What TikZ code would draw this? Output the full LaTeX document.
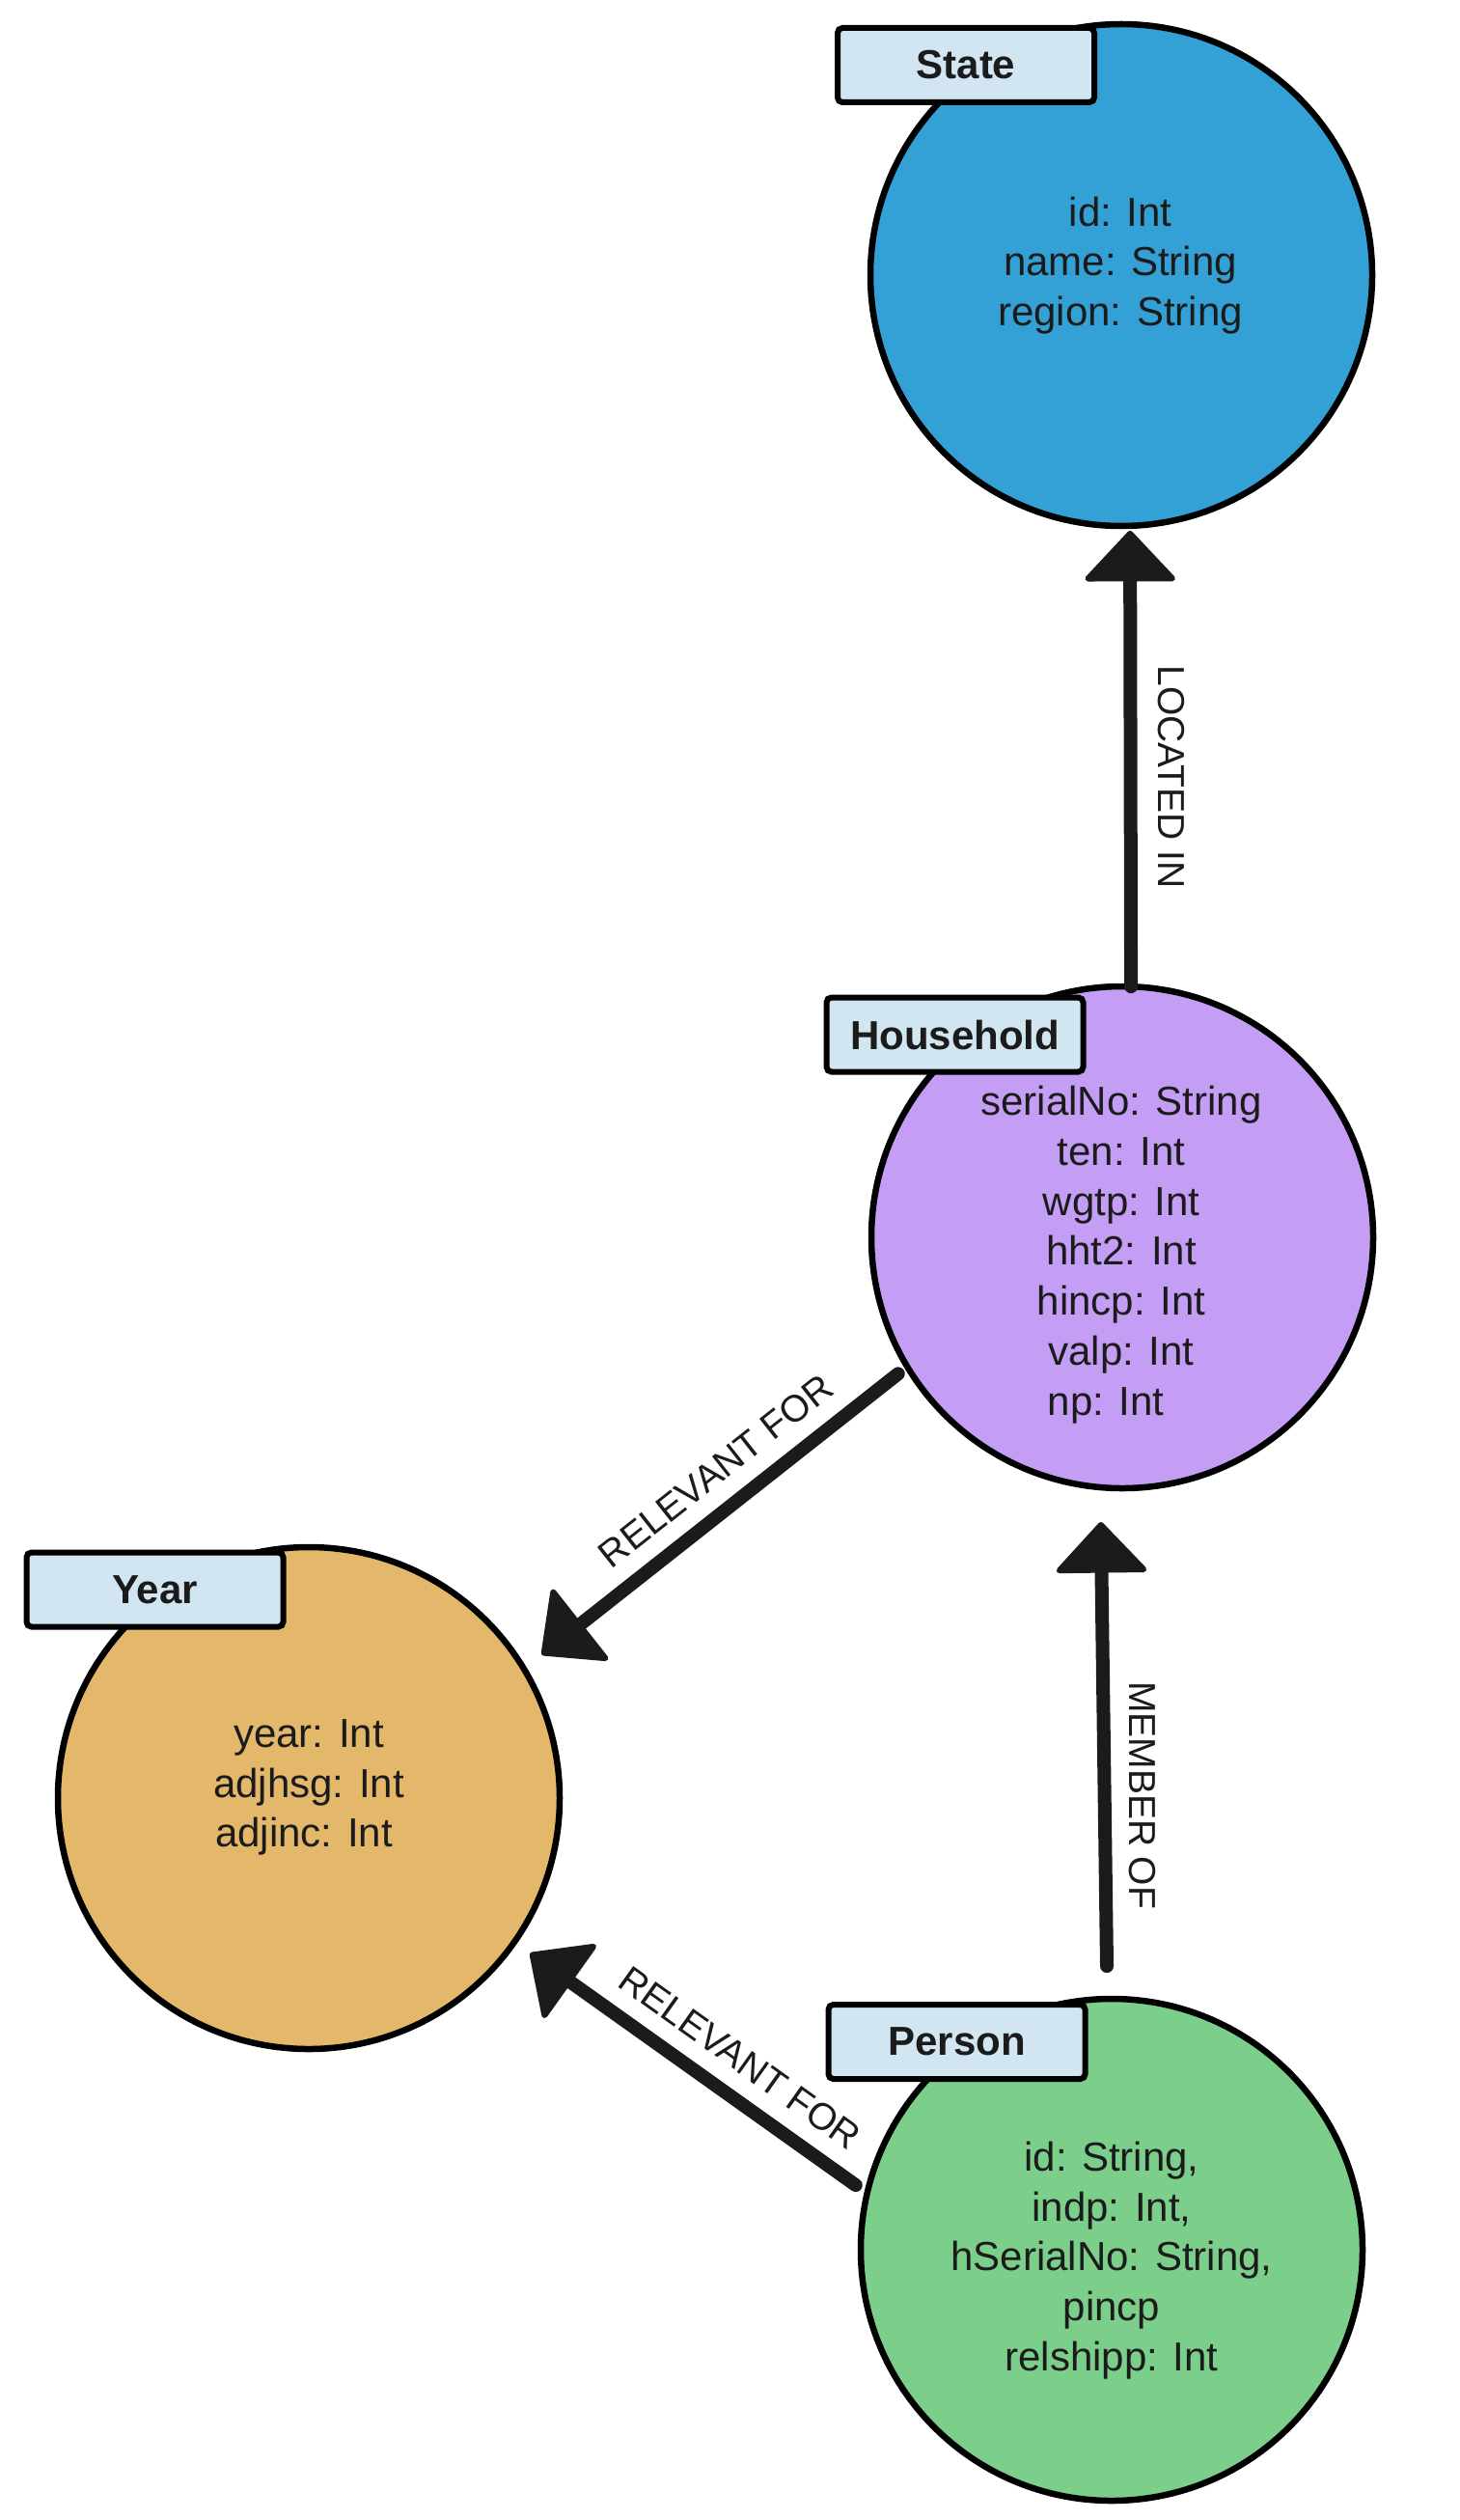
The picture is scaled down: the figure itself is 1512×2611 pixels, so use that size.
\documentclass[tikz,border=0pt]{standalone}
\usepackage{fontspec}
\setmainfont{Liberation Sans}
\usetikzlibrary{arrows.meta}
\definecolor{stateblue}{HTML}{33A1D6}
\definecolor{hhpurple}{HTML}{C49EF5}
\definecolor{yearorange}{HTML}{E3B86A}
\definecolor{persongreen}{HTML}{7CCF8A}
\definecolor{tagblue}{HTML}{D2E6F1}
\definecolor{ink}{HTML}{1B1B1B}
\begin{document}
\begin{tikzpicture}[x=0.5pt,y=-0.5pt,
  entity/.style={circle, draw=black, line width=3.25pt, minimum size=260pt, inner sep=0pt, outer sep=0pt},
  tag/.style={draw=black, fill=tagblue, line width=3pt, rounded corners=2.5pt, minimum width=133pt, minimum height=38.5pt, inner sep=0pt, font=\fontsize{21pt}{25pt}\selectfont\bfseries, text=ink},
  props/.style={align=center, inner sep=0pt, font=\fontsize{21pt}{25.9pt}\selectfont, text=ink},
  rel/.style={draw=ink, line width=7pt, line cap=round, -{Triangle[length=27pt,width=50pt,line width=3pt,round]}},
  elabel/.style={inner xsep=0pt, inner ysep=9pt, anchor=south, font=\fontsize{19.5pt}{20pt}\selectfont, text=ink},
]
\useasboundingbox (0,0) rectangle (1512,2611);

% entities
\node[entity, fill=stateblue] (state) at (1162,285) {};
\node[entity, fill=hhpurple] (household) at (1163,1282) {};
\node[entity, fill=yearorange] (year) at (320,1863) {};
\node[entity, fill=persongreen] (person) at (1152,2331) {};

% properties
\node[props] (stateprops) at (1161,275) {id: Int\\name: String\\region: String};
\node[props] (hhprops) at (1162,1300) {serialNo: String\\ten: Int\\wgtp: Int\\hht2: Int\\hincp: Int\\valp: Int\\np: Int\hspace*{16pt}};
\node[props] (yearprops) at (320,1852) {year: Int\\adjhsg: Int\\adjinc: Int\hspace*{5pt}};
\node[props] (personprops) at (1152,2342) {id: String,\\indp: Int,\\hSerialNo: String,\\pincp\\relshipp: Int};

% tags
\node[tag] (statetag) at (1001,67.5) {State};
\node[tag] (hhtag) at (989.5,1072) {Household};
\node[tag] (yeartag) at (160.5,1647) {Year};
\node[tag] (persontag) at (991.5,2115.5) {Person};

% relationships
\draw[rel, shorten >=2.5pt] (household.88) -- node[elabel, rotate=-90, pos=0.455, inner ysep=10.5pt] (lblLocated) {LOCATED IN} (state.-88);
\draw[rel, shorten <=17pt, shorten >=18pt] (person.91.9) -- node[elabel, rotate=-90, pos=0.398, inner ysep=9.25pt] (lblMember) {MEMBER OF} (household.265.9);
\draw[rel, shorten <=6pt, shorten >=11.8pt] (household.211.5) -- node[elabel, sloped, pos=0.44, inner ysep=8.5pt] (lblRelH) {RELEVANT FOR} (year.31.5);
\draw[rel, shorten <=7.3pt, shorten >=10pt] (person.167.4) -- node[elabel, sloped, pos=0.42, inner ysep=8.5pt] (lblRelP) {RELEVANT FOR} (year.-35.4);
\end{tikzpicture}
\end{document}
